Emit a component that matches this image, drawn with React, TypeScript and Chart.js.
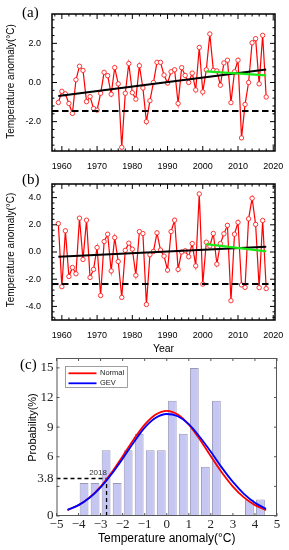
import React, { useEffect, useRef } from 'react';
import { Chart, registerables } from 'chart.js';

Chart.register(...registerables);

// ---------------- data ----------------
const years = [
  1959, 1960, 1961, 1962, 1963, 1964, 1965, 1966, 1967, 1968,
  1969, 1970, 1971, 1972, 1973, 1974, 1975, 1976, 1977, 1978,
  1979, 1980, 1981, 1982, 1983, 1984, 1985, 1986, 1987, 1988,
  1989, 1990, 1991, 1992, 1993, 1994, 1995, 1996, 1997, 1998,
  1999, 2000, 2001, 2002, 2003, 2004, 2005, 2006, 2007, 2008,
  2009, 2010, 2011, 2012, 2013, 2014, 2015, 2016, 2017, 2018,
];

const anomalyA = [
  -1.02, -0.45, -0.58, -1.07, -1.58, 0.14, 0.83, 0.62, -0.98, -0.72,
  -1.33, -1.41, -0.55, 0.52, 0.35, -0.6, 0.76, -0.07, -3.31, -0.55,
  0.97, -0.52, -0.85, 0.86, -0.28, -2.0, -0.93, 0.0, 1.03, 1.03,
  0.38, -0.03, 0.55, 0.65, -1.07, 0.76, 0.36, 0.0, 0.48, -0.38,
  1.79, -0.48, 0.65, 2.48, 0.62, 0.59, -0.14, 1.0, 1.14, -1.03,
  0.55, 1.14, -2.83, -1.12, 0.0, 2.03, 2.24, -0.07, 2.41, -0.74,
];

const anomalyB = [
  2.09, -2.55, 1.56, -1.8, -1.14, -1.6, 2.49, -0.55, 2.34, -1.87,
  -1.28, 0.33, -3.2, 0.77, 1.31, -1.39, 1.06, -0.7, -3.34, 0.12,
  0.65, 0.21, -1.71, 1.5, 1.36, -3.86, -0.2, 0.04, 1.41, 0.14,
  -0.3, -1.33, 1.5, 2.34, -1.28, 0.0, 0.09, -0.35, 0.62, -1.02,
  4.27, -2.36, 0.72, 0.44, 1.36, -0.89, 0.62, 1.34, 1.96, -3.58,
  1.31, 2.18, -2.42, -2.6, 2.44, 3.95, 2.03, -2.62, 2.32, -2.69,
];

const trendYears = [1959, 2018];
const trendA = [-0.69, 0.66];
const trendB = [-0.35, 0.38];
const recentYears = [2001, 2018];
const recentTrendA = [0.57, 0.36];
const recentTrendB = [0.58, 0.04];
const thresholdA = -1.45;
const thresholdB = -2.35;

const yearTicks = [1960, 1970, 1980, 1990, 2000, 2010, 2020];
const yTicksA = [-2, 0, 2];
const yTicksB = [-4, -2, 0, 2, 4];

const binCenters = [-3.75, -3.25, -2.75, -2.25, -1.75, -1.25, -0.75, -0.25, 0.25, 0.75, 1.25, 1.75, 2.25, 3.75, 4.25];
const binProbability = [3.33, 3.33, 6.67, 3.33, 6.67, 8.33, 6.67, 6.67, 11.67, 8.33, 15.0, 5.0, 11.67, 1.67, 1.67];

const curveX = [-4.5, -4, -3.5, -3, -2.5, -2, -1.5, -1, -0.5, 0, 0.5, 1, 1.5, 2, 2.5, 3, 3.5, 4, 4.5];
const normalCurve = [0.6, 1.1, 1.88, 2.98, 4.4, 6.05, 7.75, 9.25, 10.28, 10.65, 10.28, 9.25, 7.75, 6.05, 4.4, 2.98, 1.88, 1.1, 0.6];
const gevCurve = [0.62, 1.1, 1.85, 2.9, 4.25, 5.8, 7.45, 8.95, 9.95, 10.33, 10.1, 9.3, 8.0, 6.5, 4.9, 3.45, 2.25, 1.35, 0.72];

const probXTicks = [-5, -4, -3, -2, -1, 0, 1, 2, 3, 4, 5];
const probYTicks = [0, 3.8, 6, 9, 12, 15];
const probYFrameTicks = [0, 3, 6, 9, 12, 15];
const marker2018X = -2.73;
const marker2018Y = 3.8;
const marker2018Label = '2018';

// ---------------- styling ----------------
const SANS = '"Liberation Sans", Arial, Helvetica, sans-serif';
const SERIF = '"Liberation Serif", "Times New Roman", serif';
const YEAR_MIN = 1957.2;
const YEAR_MAX = 2020.5;

function zeroPad(s: any) {
  s.paddingLeft = 0;
  s.paddingRight = 0;
  s.paddingTop = 0;
  s.paddingBottom = 0;
}

function line(ctx: CanvasRenderingContext2D, x1: number, y1: number, x2: number, y2: number) {
  ctx.beginPath();
  ctx.moveTo(x1, y1);
  ctx.lineTo(x2, y2);
  ctx.stroke();
}

function tsFramePlugin(panel: string, labelBaseline: number, yTitleY: number, yMinMinor: number, yMaxMinor: number, showYear: boolean) {
  return {
    id: 'tsFrame' + panel,
    afterDraw(chart: any) {
      const { ctx, chartArea: a } = chart;
      const xs = chart.scales.x;
      const ys = chart.scales.y;
      ctx.save();
      ctx.strokeStyle = '#000';
      ctx.lineWidth = 1;
      // x ticks (inward, bottom & top)
      for (let v = 1958; v <= 2020; v += 2) {
        const p = xs.getPixelForValue(v);
        const len = v % 10 === 0 ? 5 : 2.5;
        line(ctx, p, a.bottom, p, a.bottom - len);
        line(ctx, p, a.top, p, a.top + len);
      }
      // y ticks (inward, left & right)
      for (let k = Math.round(yMinMinor / 0.4); k <= Math.round(yMaxMinor / 0.4); k++) {
        const v = k * 0.4;
        const major = k % 5 === 0;
        const p = ys.getPixelForValue(v);
        const len = major ? 5 : 2.5;
        line(ctx, a.left, p, a.left + len, p);
        line(ctx, a.right, p, a.right - len, p);
      }
      ctx.lineWidth = 1.5;
      ctx.strokeRect(a.left, a.top, a.right - a.left, a.bottom - a.top);

      ctx.fillStyle = '#000';
      ctx.font = '15px ' + SERIF;
      ctx.textAlign = 'left';
      ctx.textBaseline = 'alphabetic';
      ctx.fillText('(' + panel + ')', 22, labelBaseline);

      ctx.font = '10px ' + SANS;
      ctx.textAlign = 'center';
      ctx.textBaseline = 'middle';
      ctx.save();
      ctx.translate(11, yTitleY);
      ctx.rotate(-Math.PI / 2);
      ctx.fillText('Temperature anomaly(°C)', 0, 0);
      ctx.restore();

      if (showYear) {
        ctx.font = '10.5px ' + SANS;
        ctx.fillText('Year', (a.left + a.right) / 2, a.bottom + 29.5);
      }
      ctx.restore();
    },
  };
}

function tsConfig(p: {
  values: number[];
  trend: number[];
  recent: number[];
  threshold: number;
  yMin: number;
  yMax: number;
  yTicks: number[];
  top: number;
  xAxisH: number;
  plugin: any;
}) {
  return {
    type: 'line',
    data: {
      datasets: [
        {
          label: 'recent trend',
          data: recentYears.map((x, i) => ({ x, y: p.recent[i] })),
          borderColor: '#18e818',
          borderWidth: 2.2,
          pointRadius: 0,
          order: 0,
        },
        {
          label: 'trend',
          data: trendYears.map((x, i) => ({ x, y: p.trend[i] })),
          borderColor: '#000',
          borderWidth: 2,
          pointRadius: 0,
          order: 1,
        },
        {
          label: 'threshold',
          data: [
            { x: YEAR_MIN, y: p.threshold },
            { x: YEAR_MAX, y: p.threshold },
          ],
          borderColor: '#000',
          borderWidth: 2,
          borderDash: [6.5, 3.5],
          pointRadius: 0,
          order: 2,
        },
        {
          label: 'anomaly',
          data: years.map((x, i) => ({ x, y: p.values[i] })),
          borderColor: '#ff0000',
          borderWidth: 1.2,
          pointRadius: 2.2,
          pointBorderWidth: 0.9,
          pointBackgroundColor: '#ffffff',
          pointBorderColor: '#ff2020',
          order: 3,
        },
      ],
    },
    options: {
      animation: false,
      responsive: false,
      events: [],
      layout: { padding: { top: p.top, right: 14, left: 0, bottom: 0 } },
      plugins: { legend: { display: false }, tooltip: { enabled: false } },
      scales: {
        x: {
          type: 'linear',
          min: YEAR_MIN,
          max: YEAR_MAX,
          grid: { display: false, drawTicks: false },
          border: { display: false },
          ticks: {
            color: '#000',
            font: { family: SANS, size: 9 },
            padding: 10,
            maxRotation: 0,
            autoSkip: false,
            callback: (v: number) => String(v),
          },
          afterBuildTicks: (s: any) => {
            s.ticks = yearTicks.map((v) => ({ value: v }));
          },
          afterFit: (s: any) => {
            s.height = p.xAxisH;
            zeroPad(s);
          },
        },
        y: {
          type: 'linear',
          min: p.yMin,
          max: p.yMax,
          grid: { display: false, drawTicks: false },
          border: { display: false },
          ticks: {
            color: '#000',
            font: { family: SANS, size: 9 },
            padding: 11,
            autoSkip: false,
            callback: (v: number) => v.toFixed(1),
          },
          afterBuildTicks: (s: any) => {
            s.ticks = p.yTicks.map((v) => ({ value: v }));
          },
          afterFit: (s: any) => {
            s.width = 52;
            zeroPad(s);
          },
        },
      },
    },
    plugins: [p.plugin],
  };
}

const probPlugin = {
  id: 'probDecor',
  afterDraw(chart: any) {
    const { ctx, chartArea: a } = chart;
    const xs = chart.scales.x;
    const ys = chart.scales.y;
    ctx.save();
    ctx.strokeStyle = '#555';
    ctx.lineWidth = 1;
    probXTicks.forEach((v) => {
      const px = xs.getPixelForValue(v);
      line(ctx, px, a.bottom, px, a.bottom - 3);
      line(ctx, px, a.top, px, a.top + 3);
    });
    probYFrameTicks.forEach((v) => {
      const py = ys.getPixelForValue(v);
      line(ctx, a.left, py, a.left + 3, py);
      line(ctx, a.right, py, a.right - 3, py);
    });
    ctx.strokeRect(a.left + 0.5, a.top + 0.5, a.right - a.left - 1, a.bottom - a.top - 1);

    // legend box
    const lx = a.left + 8.5;
    const ly = a.top + 8;
    ctx.fillStyle = '#fff';
    ctx.fillRect(lx, ly, 63, 22);
    ctx.strokeStyle = '#888';
    ctx.lineWidth = 0.8;
    ctx.strokeRect(lx + 0.5, ly + 0.5, 62, 21);
    ctx.lineWidth = 1.8;
    ctx.strokeStyle = '#ff0000';
    line(ctx, lx + 3.5, ly + 7.3, lx + 31.5, ly + 7.3);
    ctx.strokeStyle = '#0000ff';
    line(ctx, lx + 3.5, ly + 17.3, lx + 31.5, ly + 17.3);
    ctx.fillStyle = '#222';
    ctx.font = '7.5px ' + SANS;
    ctx.textAlign = 'left';
    ctx.textBaseline = 'middle';
    ctx.fillText('Normal', lx + 35, ly + 7.3);
    ctx.fillText('GEV', lx + 35, ly + 17.3);

    // 2018 label
    ctx.font = '8px ' + SANS;
    ctx.textAlign = 'center';
    ctx.fillStyle = '#333';
    ctx.fillText(marker2018Label, xs.getPixelForValue(marker2018X) - 8.5, ys.getPixelForValue(marker2018Y) - 6);

    // panel label
    ctx.fillStyle = '#000';
    ctx.font = '15px ' + SERIF;
    ctx.textAlign = 'left';
    ctx.textBaseline = 'alphabetic';
    ctx.fillText('(c)', 20, 14.5);

    // axis titles
    ctx.font = '12px ' + SANS;
    ctx.textAlign = 'center';
    ctx.textBaseline = 'middle';
    ctx.fillText('Temperature anomaly(°C)', (a.left + a.right) / 2, a.bottom + 23);
    ctx.save();
    ctx.font = '11px ' + SANS;
    ctx.translate(33, 73.5);
    ctx.rotate(-Math.PI / 2);
    ctx.fillText('Probability(%)', 0, 0);
    ctx.restore();
    ctx.restore();
  },
};

function probConfig() {
  return {
    type: 'bar',
    data: {
      datasets: [
        {
          type: 'line',
          label: 'GEV',
          data: curveX.map((x, i) => ({ x, y: gevCurve[i] })),
          borderColor: '#0000ff',
          borderWidth: 1.8,
          pointRadius: 0,
          cubicInterpolationMode: 'monotone',
          order: 0,
        },
        {
          type: 'line',
          label: 'Normal',
          data: curveX.map((x, i) => ({ x, y: normalCurve[i] })),
          borderColor: '#ff0000',
          borderWidth: 1.8,
          pointRadius: 0,
          cubicInterpolationMode: 'monotone',
          order: 1,
        },
        {
          type: 'line',
          label: '2018 h',
          data: [
            { x: -5, y: marker2018Y },
            { x: marker2018X, y: marker2018Y },
          ],
          borderColor: '#000',
          borderWidth: 1.3,
          borderDash: [4, 3],
          pointRadius: 0,
          order: 2,
        },
        {
          type: 'line',
          label: '2018 v',
          data: [
            { x: marker2018X, y: 0 },
            { x: marker2018X, y: marker2018Y },
          ],
          borderColor: '#000',
          borderWidth: 1.3,
          borderDash: [4, 3],
          pointRadius: 0,
          order: 2,
        },
        {
          type: 'bar',
          label: 'Probability',
          data: binCenters.map((x, i) => ({ x, y: binProbability[i] })),
          backgroundColor: '#c6c6f2',
          borderColor: '#9898b8',
          borderWidth: 1,
          borderSkipped: false,
          barPercentage: 0.8,
          categoryPercentage: 1,
          order: 3,
        },
      ],
    },
    options: {
      animation: false,
      responsive: false,
      events: [],
      layout: { padding: { top: 4, right: 12, left: 0, bottom: 0 } },
      plugins: { legend: { display: false }, tooltip: { enabled: false } },
      scales: {
        x: {
          type: 'linear',
          min: -5,
          max: 5,
          offset: false,
          grid: { display: false, drawTicks: false, offset: false },
          border: { display: false },
          ticks: {
            color: '#222',
            font: { family: SERIF, size: 13 },
            padding: 1,
            maxRotation: 0,
            autoSkip: false,
            callback: (v: number) => (v < 0 ? '\u2212' + Math.abs(v) : String(v)),
          },
          afterBuildTicks: (s: any) => {
            s.ticks = probXTicks.map((v) => ({ value: v }));
          },
          afterFit: (s: any) => {
            s.height = 34;
            zeroPad(s);
          },
        },
        y: {
          type: 'linear',
          min: 0,
          max: 16,
          grid: { display: false, drawTicks: false },
          border: { display: false },
          ticks: {
            color: '#222',
            font: { family: SERIF, size: 13 },
            padding: 3,
            autoSkip: false,
            callback: (v: number) => String(v),
          },
          afterBuildTicks: (s: any) => {
            s.ticks = probYTicks.map((v) => ({ value: v }));
          },
          afterFit: (s: any) => {
            s.width = 56.5;
            zeroPad(s);
          },
        },
      },
    },
    plugins: [probPlugin],
  };
}

export default function App() {
  const refA = useRef<HTMLCanvasElement>(null);
  const refB = useRef<HTMLCanvasElement>(null);
  const refC = useRef<HTMLCanvasElement>(null);

  useEffect(() => {
    const charts: Chart[] = [];
    if (refA.current) {
      charts.push(
        new Chart(
          refA.current,
          tsConfig({
            values: anomalyA,
            trend: trendA,
            recent: recentTrendA,
            threshold: thresholdA,
            yMin: -3.5,
            yMax: 3.5,
            yTicks: yTicksA,
            top: 14,
            xAxisH: 21,
            plugin: tsFramePlugin('a', 16.5, 81.5, -3.2, 3.2, false),
          }) as any
        )
      );
    }
    if (refB.current) {
      charts.push(
        new Chart(
          refB.current,
          tsConfig({
            values: anomalyB,
            trend: trendB,
            recent: recentTrendB,
            threshold: thresholdB,
            yMin: -5,
            yMax: 5,
            yTicks: yTicksB,
            top: 12,
            xAxisH: 34,
            plugin: tsFramePlugin('b', 11.5, 78, -4.8, 4.8, true),
          }) as any
        )
      );
    }
    if (refC.current) {
      charts.push(new Chart(refC.current, probConfig() as any));
    }
    return () => charts.forEach((c) => c.destroy());
  }, []);

  return (
    <div style={{ position: 'absolute', left: 0, top: 0, width: 289, height: 550, background: '#fff' }}>
      <canvas ref={refA} width={289} height={172} style={{ position: 'absolute', left: 0, top: 0, width: 289, height: 172 }} />
      <canvas ref={refB} width={289} height={182} style={{ position: 'absolute', left: 0, top: 172, width: 289, height: 182 }} />
      <canvas ref={refC} width={289} height={196} style={{ position: 'absolute', left: 0, top: 354, width: 289, height: 196 }} />
    </div>
  );
}
